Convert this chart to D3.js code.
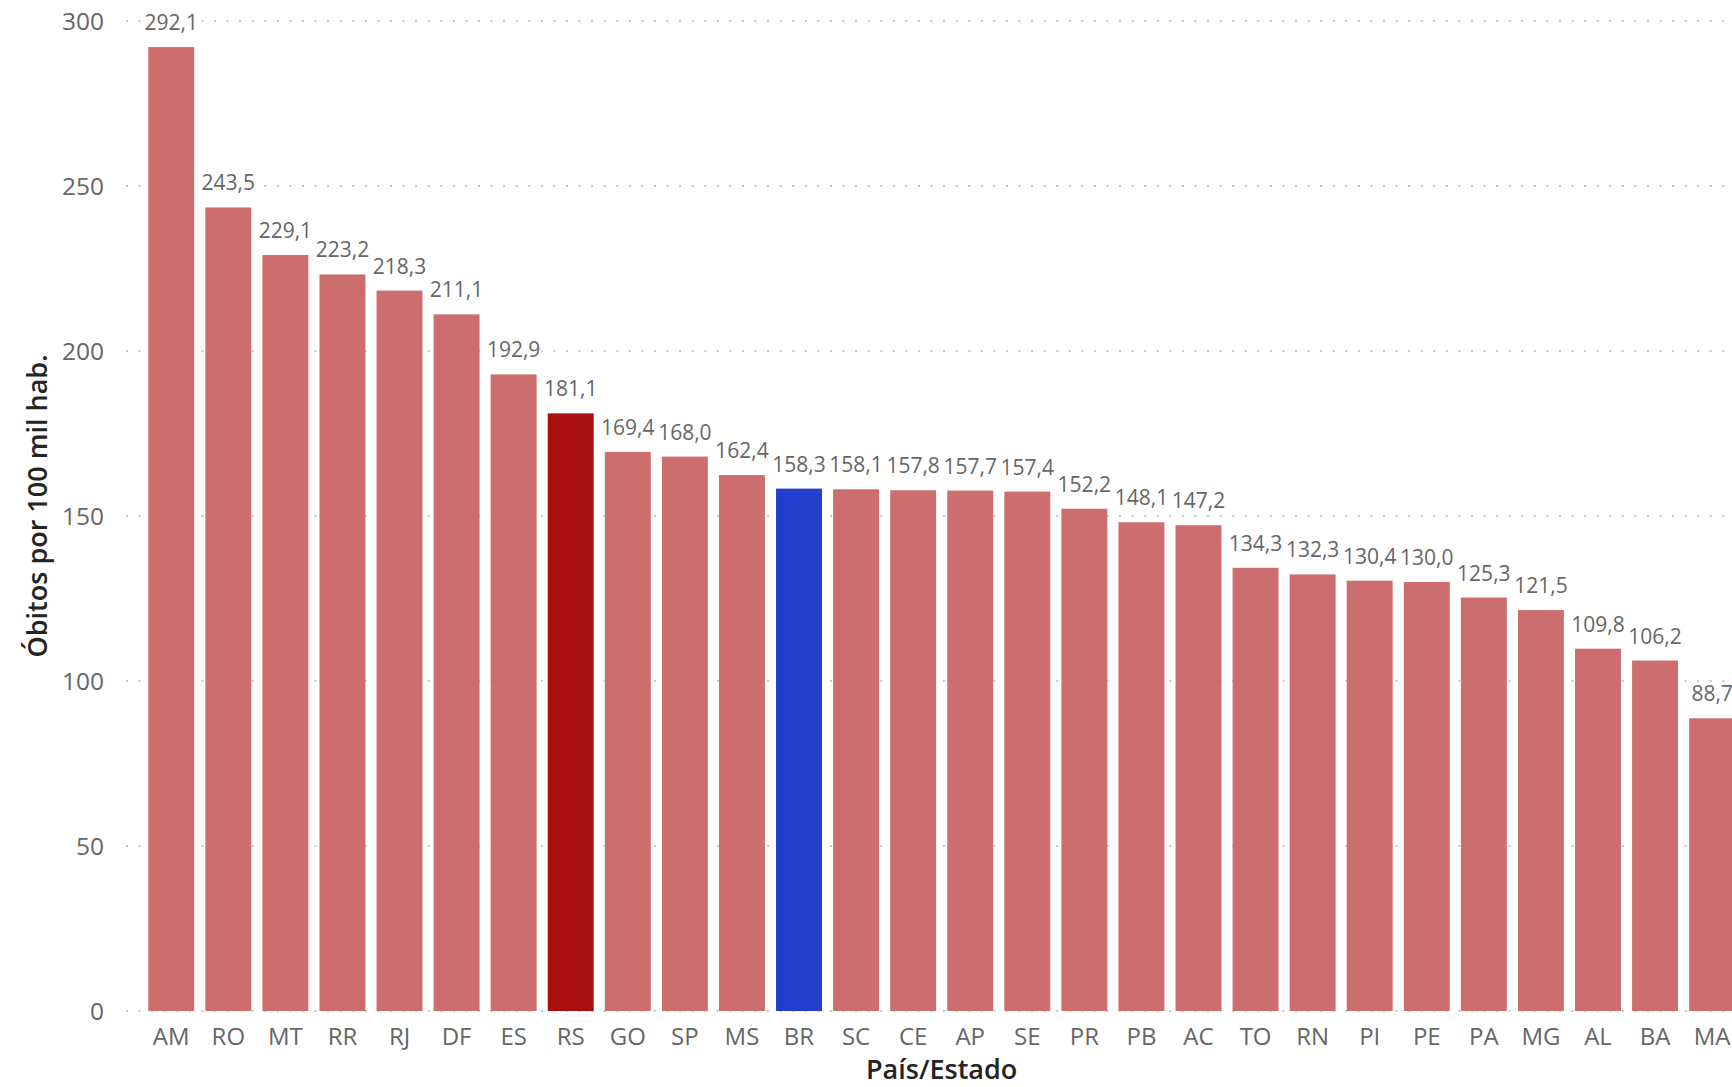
<!DOCTYPE html>
<html>
<head>
<meta charset="utf-8">
<script src="https://cdn.jsdelivr.net/npm/d3@7"></script>
<style>
  html, body { margin: 0; padding: 0; background: #ffffff; overflow: hidden; }
  svg { display: block; }
</style>
</head>
<body>
<svg id="chart" width="1732" height="1087"></svg>
<script>
// ---- data ----
const categories = ["AM","RO","MT","RR","RJ","DF","ES","RS","GO","SP","MS","BR","SC","CE","AP","SE","PR","PB","AC","TO","RN","PI","PE","PA","MG","AL","BA","MA"];
const values = [292.1,243.5,229.1,223.2,218.3,211.1,192.9,181.1,169.4,168.0,162.4,158.3,158.1,157.8,157.7,157.4,152.2,148.1,147.2,134.3,132.3,130.4,130.0,125.3,121.5,109.8,106.2,88.7];
const yTicks = [0, 50, 100, 150, 200, 250, 300];
const yTitle = "Óbitos por 100 mil hab.";
const xTitle = "País/Estado";
const highlightState = "RS";
const highlightCountry = "BR";

// ---- layout ----
const W = 1732, H = 1087;
const svg = d3.select("#chart");
const font = "'Segoe UI', 'Open Sans', 'Noto Sans', sans-serif";

const x = d3.scaleBand()
  .domain(categories)
  .range([142.7, 142.7 + 28 * 57.07])
  .paddingInner(0.195)
  .paddingOuter(0.0975);

const y = d3.scaleLinear().domain([0, 300]).range([1011, 21]);

const colorFor = c => c === highlightState ? "#A80F0F" : (c === highlightCountry ? "#213ECD" : "#CC6E6E");

// gridlines
const grid = svg.append("g");
grid.selectAll("line")
  .data(yTicks)
  .join("line")
  .attr("x1", 126).attr("x2", W)
  .attr("y1", d => y(d)).attr("y2", d => y(d))
  .attr("stroke", "#c6c6c6")
  .attr("stroke-width", 2)
  .attr("stroke-dasharray", "2 10.57");

// y axis tick labels
const yAxis = d3.axisLeft(y).tickValues(yTicks).tickSize(0).tickPadding(0).tickFormat(d3.format("d"));
const yg = svg.append("g").attr("transform", "translate(104,0)").call(yAxis);
yg.select(".domain").remove();
yg.selectAll("text")
  .attr("font-family", font)
  .attr("font-size", 24.5)
  .attr("fill", "#666666")
  .attr("dy", "0.35em");

// bars
svg.append("g").selectAll("rect")
  .data(categories)
  .join("rect")
  .attr("x", d => x(d))
  .attr("width", x.bandwidth())
  .attr("y", (d, i) => y(values[i]))
  .attr("height", (d, i) => y(0) - y(values[i]))
  .attr("fill", d => colorFor(d));

// data labels
const fmt = v => d3.format(".1f")(v).replace(".", ",");
svg.append("g").selectAll("text")
  .data(categories)
  .join("text")
  .attr("x", d => x(d) + x.bandwidth() / 2)
  .attr("y", (d, i) => y(values[i]) - 17)
  .attr("text-anchor", "middle")
  .attr("font-family", font)
  .attr("font-size", 21)
  .attr("fill", "#666666")
  .attr("stroke", "#ffffff")
  .attr("stroke-width", 5)
  .attr("paint-order", "stroke")
  .text((d, i) => fmt(values[i]));

// x axis labels
const xAxis = d3.axisBottom(x).tickSize(0).tickPadding(0);
const xg = svg.append("g").attr("transform", "translate(0,1045)").call(xAxis);
xg.select(".domain").remove();
xg.selectAll("text")
  .attr("font-family", font)
  .attr("font-size", 24)
  .attr("fill", "#666666")
  .attr("dy", 0);

// axis titles
svg.append("text")
  .attr("transform", "translate(47,506) rotate(-90)")
  .attr("text-anchor", "middle")
  .attr("font-family", font)
  .attr("font-weight", 600)
  .attr("font-size", 27)
  .attr("fill", "#252423")
  .text(yTitle);

svg.append("text")
  .attr("x", (x.range()[0] + x.range()[1]) / 2)
  .attr("y", 1079)
  .attr("text-anchor", "middle")
  .attr("font-family", font)
  .attr("font-weight", 600)
  .attr("font-size", 27)
  .attr("fill", "#252423")
  .text(xTitle);
</script>
</body>
</html>
